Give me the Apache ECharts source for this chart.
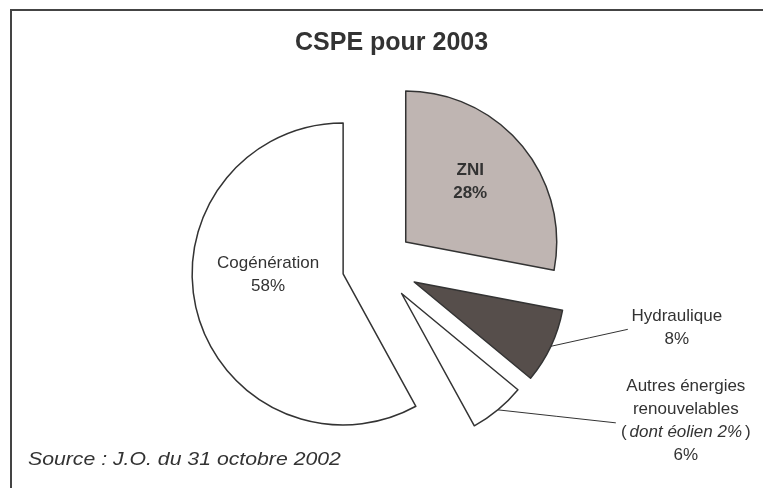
<!DOCTYPE html>
<html>
<head>
<meta charset="utf-8">
<script src="https://cdn.jsdelivr.net/npm/echarts@6/dist/echarts.min.js"></script>
<style>
html,body{margin:0;padding:0;background:#fff}
#chart{width:763px;height:488px}
</style>
</head>
<body>
<div id="chart"></div>
<script>
// données
var categories = ['ZNI', 'Hydraulique', 'Autres énergies\nrenouvelables', 'Cogénération'];
var shares = [28, 8, 6, 58];
var notes = ['', '', 'dont éolien 2%', ''];
var fills = ['#bfb5b2', '#564e4b', '#ffffff', '#ffffff'];

// mise en page du camembert éclaté
var pieCenter = [378, 265];
var pieRadius = 151;
var explode = [36, 40, 37, 36];
// décalage des étiquettes ; line = étiquette extérieure avec trait
var labelShift = [
    {dx: 4, dy: -10},
    {line: true, end: [77, -17], text: [126, -19]},
    {line: true, end: [118, 13], text: [188, 11]},
    {dx: 1, dy: -19}
];

var FONT = '"Liberation Sans", Arial, Helvetica, sans-serif';
var chart = echarts.init(document.getElementById('chart'), null, {renderer: 'canvas'});

var total = 0;
for (var i = 0; i < shares.length; i++) total += shares[i];

function labelFormatter(p) {
    var s = p.name;
    if (notes[p.dataIndex]) {
        s += '\n{n|(}{i|' + notes[p.dataIndex] + '}{n|)}';
    }
    return s + '\n' + p.value + '%';
}

function labelLayout(p) {
    if (p.seriesIndex !== p.dataIndex) return {};
    var o = labelShift[p.dataIndex];
    if (!o.line) {
        return {dx: o.dx, dy: o.dy};
    }
    var s = p.labelLinePoints[0];
    var e = [s[0] + o.end[0], s[1] + o.end[1]];
    return {
        x: s[0] + o.text[0],
        y: s[1] + o.text[1],
        align: 'center',
        verticalAlign: 'middle',
        labelLinePoints: [s, [(s[0] + e[0]) / 2, (s[1] + e[1]) / 2], e]
    };
}

// une série par part, chacune décalée le long de son angle médian
var series = [];
var cum = 0;
for (var k = 0; k < shares.length; k++) {
    var mid = (cum + shares[k] / 2) / total * 2 * Math.PI;
    cum += shares[k];
    var data = [];
    for (var j = 0; j < shares.length; j++) {
        var own = j === k;
        data.push({
            name: categories[j],
            value: shares[j],
            itemStyle: own
                ? {color: fills[j], borderColor: '#333', borderWidth: 1.5}
                : {color: 'rgba(0,0,0,0)', borderWidth: 0},
            label: {
                show: own,
                position: labelShift[j].line ? 'outside' : 'inside',
                fontWeight: j === 0 ? 'bold' : 'normal'
            },
            labelLine: {show: own && !!labelShift[j].line}
        });
    }
    series.push({
        type: 'pie',
        center: [pieCenter[0] + explode[k] * Math.sin(mid), pieCenter[1] - explode[k] * Math.cos(mid)],
        radius: pieRadius,
        startAngle: 90,
        clockwise: true,
        avoidLabelOverlap: false,
        silent: true,
        emphasis: {disabled: true},
        label: {
            fontFamily: FONT,
            fontSize: 17,
            color: '#333',
            lineHeight: 23,
            formatter: labelFormatter,
            rich: {
                n: {fontFamily: FONT, fontSize: 17, color: '#333', lineHeight: 23},
                i: {fontFamily: FONT, fontSize: 17, fontStyle: 'italic', color: '#333', lineHeight: 23, padding: [0, 3]}
            }
        },
        labelLine: {lineStyle: {color: '#333', width: 1}},
        labelLayout: labelLayout,
        data: data
    });
}

chart.setOption({
    animation: false,
    title: {
        text: 'CSPE pour 2003',
        left: 295,
        top: 31,
        padding: 0,
        textStyle: {fontFamily: FONT, fontSize: 25, fontWeight: 'bold', color: '#333'}
    },
    graphic: [
        {
            type: 'rect',
            shape: {x: 11, y: 10, width: 800, height: 500},
            style: {fill: null, stroke: '#444', lineWidth: 2},
            silent: true
        },
        {
            type: 'text',
            x: 28,
            y: 451,
            scaleX: 1.18,
            style: {
                text: 'Source : J.O. du 31 octobre 2002',
                font: 'italic 18px ' + FONT,
                fill: '#333'
            },
            silent: true
        }
    ],
    series: series
});
</script>
</body>
</html>
